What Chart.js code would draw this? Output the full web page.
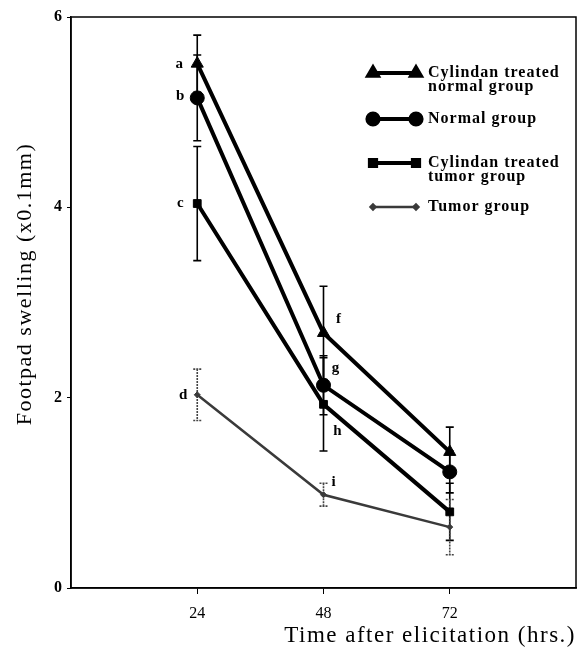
<!DOCTYPE html>
<html>
<head>
<meta charset="utf-8">
<script src="https://cdn.jsdelivr.net/npm/chart.js@4/dist/chart.umd.min.js"></script>
<style>
  html, body { margin: 0; padding: 0; background: #fff; }
  #wrap { width: 577px; height: 661px; }
</style>
</head>
<body>
<div id="wrap"><canvas id="chart" width="577" height="661"></canvas></div>
<script>
// Footpad swelling (x0.1 mm) after elicitation, mean with error
const hours = [24, 48, 72];
const xTicks = [24, 48, 72];
const yTicks = [0, 2, 4, 6];
const xTitle = "Time after elicitation (hrs.)";
const yTitle = "Footpad swelling (x0.1mm)";

const cylNormal = [5.51, 2.68, 1.43];
const cylNormalErr = [0.30, 0.49, 0.26];
const normal = [5.15, 2.13, 1.22];
const normalErr = [0.45, 0.31, 0.22];
const cylTumor = [4.04, 1.93, 0.80];
const cylTumorErr = [0.60, 0.49, 0.30];
const tumor = [2.03, 0.98, 0.64];
const tumorErr = [0.27, 0.12, 0.29];

const legendText = [
    ["Cylindan treated", "normal group"],
    ["Normal group"],
    ["Cylindan treated", "tumor group"],
    ["Tumor group"]
];
const pointLetters = [
    ["a", "f", ""],
    ["b", "g", ""],
    ["c", "h", ""],
    ["d", "i", ""]
];

// letter offsets from the point, in px
const letterOffsets = [
    [[-18, 0], [15, -14], [0, 0]],
    [[-17, -2], [12, -17], [0, 0]],
    [[-17, 0], [14, 27], [0, 0]],
    [[-14, 0], [10, -13], [0, 0]]
];

const SERIF = '"Liberation Serif", "DejaVu Serif", serif';

function makeSet(label, values, errors, style, radius, color, width) {
    return {
        label: label,
        data: values.map((v, i) => ({ x: hours[i], y: v })),
        errors: errors,
        borderColor: color,
        backgroundColor: color,
        borderWidth: width,
        pointStyle: style,
        pointRadius: radius,
        pointBorderWidth: 1,
        pointBorderColor: color,
        pointBackgroundColor: color,
        tension: 0,
        fill: false
    };
}

const datasets = [
    makeSet(legendText[0].join(" "), cylNormal, cylNormalErr, "triangle", 7, "#000", 4),
    makeSet(legendText[1].join(" "), normal, normalErr, "circle", 7, "#000", 4),
    makeSet(legendText[2].join(" "), cylTumor, cylTumorErr, "rect", 5.5, "#000", 4),
    makeSet(legendText[3].join(" "), tumor, tumorErr, "rectRot", 3, "#3a3a3a", 2.5)
];

// vertical error bars with caps
const errorBars = {
    id: "errorBars",
    beforeDatasetsDraw(chart) {
        const ctx = chart.ctx;
        const xs = chart.scales.x, ys = chart.scales.y;
        chart.data.datasets.forEach((ds, di) => {
            ctx.save();
            ctx.strokeStyle = di === 3 ? "#444" : "#000";
            ctx.lineWidth = 1.6;
            if (di === 3) ctx.setLineDash([2, 1]);
            ds.data.forEach((p, i) => {
                const e = ds.errors[i];
                const x = xs.getPixelForValue(p.x);
                const top = ys.getPixelForValue(p.y + e);
                const bot = ys.getPixelForValue(p.y - e);
                ctx.beginPath();
                ctx.moveTo(x, top); ctx.lineTo(x, bot);
                ctx.moveTo(x - 4, top); ctx.lineTo(x + 4, top);
                ctx.moveTo(x - 4, bot); ctx.lineTo(x + 4, bot);
                ctx.stroke();
            });
            ctx.restore();
        });
    }
};

// frame, axis titles, letters beside points, legend
const decorations = {
    id: "decorations",
    afterDraw(chart) {
        const ctx = chart.ctx;
        const xs = chart.scales.x, ys = chart.scales.y;
        const area = chart.chartArea;

        ctx.save();
        ctx.strokeStyle = "#000";
        ctx.lineWidth = 1.5;
        ctx.strokeRect(area.left, area.top, area.right - area.left, area.bottom - area.top);

        // axis titles (spaced out a little)
        ctx.fillStyle = "#000";
        ctx.letterSpacing = "1.5px";
        ctx.textBaseline = "middle";
        ctx.font = "23px " + SERIF;
        ctx.textAlign = "right";
        ctx.fillText(xTitle, area.right, 636);
        ctx.font = "22px " + SERIF;
        ctx.save();
        ctx.translate(25, 284);
        ctx.rotate(-Math.PI / 2);
        ctx.textAlign = "center";
        ctx.fillText(yTitle, 0, 0);
        ctx.restore();
        ctx.letterSpacing = "0px";

        ctx.font = "bold 15px " + SERIF;
        ctx.textAlign = "center";
        chart.data.datasets.forEach((ds, di) => {
            ds.data.forEach((p, i) => {
                const txt = pointLetters[di][i];
                if (!txt) return;
                const off = letterOffsets[di][i];
                ctx.fillText(txt, xs.getPixelForValue(p.x) + off[0], ys.getPixelForValue(p.y) + off[1]);
            });
        });

        // legend
        const rowY = [73, 119, 163, 207];
        const x1 = 373, x2 = 416;
        ctx.textAlign = "left";
        ctx.letterSpacing = "1px";
        ctx.font = "bold 16px " + SERIF;
        chart.data.datasets.forEach((ds, di) => {
            const y = rowY[di];
            ctx.strokeStyle = ds.borderColor;
            ctx.lineWidth = ds.borderWidth;
            ctx.beginPath();
            ctx.moveTo(x1, y); ctx.lineTo(x2, y);
            ctx.stroke();
            const opts = {
                pointStyle: ds.pointStyle,
                radius: ds.pointRadius * 0.8,
                rotation: 0,
                borderWidth: 1
            };
            ctx.fillStyle = ds.borderColor;
            ctx.strokeStyle = ds.borderColor;
            Chart.helpers.drawPoint(ctx, opts, x1, y);
            Chart.helpers.drawPoint(ctx, opts, x2, y);
            ctx.fillStyle = "#000";
            legendText[di].forEach((line, li) => {
                ctx.fillText(line, 428, y + li * 14);
            });
        });
        ctx.restore();
    }
};

new Chart(document.getElementById("chart"), {
    type: "line",
    data: { datasets: datasets },
    options: {
        responsive: false,
        animation: false,
        layout: { autoPadding: false, padding: { top: 17, right: 1, left: 0, bottom: 0 } },
        plugins: {
            legend: { display: false },
            tooltip: { enabled: false }
        },
        scales: {
            x: {
                type: "linear",
                min: 0,
                max: 96,
                afterBuildTicks: (scale) => { scale.ticks = xTicks.map(v => ({ value: v })); },
                afterFit: (scale) => {
                    scale.height = 73;
                    scale.paddingLeft = 0;
                    scale.paddingRight = 0;
                },
                grid: { drawOnChartArea: false, tickLength: 6, color: "#000", lineWidth: 1 },
                border: { display: true, color: "#000", width: 1.5 },
                ticks: { color: "#000", padding: 10, font: { family: SERIF, size: 16 } }
            },
            y: {
                type: "linear",
                min: 0,
                max: 6,
                afterBuildTicks: (scale) => { scale.ticks = yTicks.map(v => ({ value: v })); },
                afterFit: (scale) => {
                    scale.width = 71;
                    scale.paddingTop = 0;
                    scale.paddingBottom = 0;
                },
                grid: { drawOnChartArea: false, tickLength: 4, color: "#000", lineWidth: 1 },
                border: { display: true, color: "#000", width: 1.5 },
                ticks: { color: "#000", padding: 5, font: { family: SERIF, size: 16, weight: "bold" } }
            }
        }
    },
    plugins: [errorBars, decorations]
});
</script>
</body>
</html>
